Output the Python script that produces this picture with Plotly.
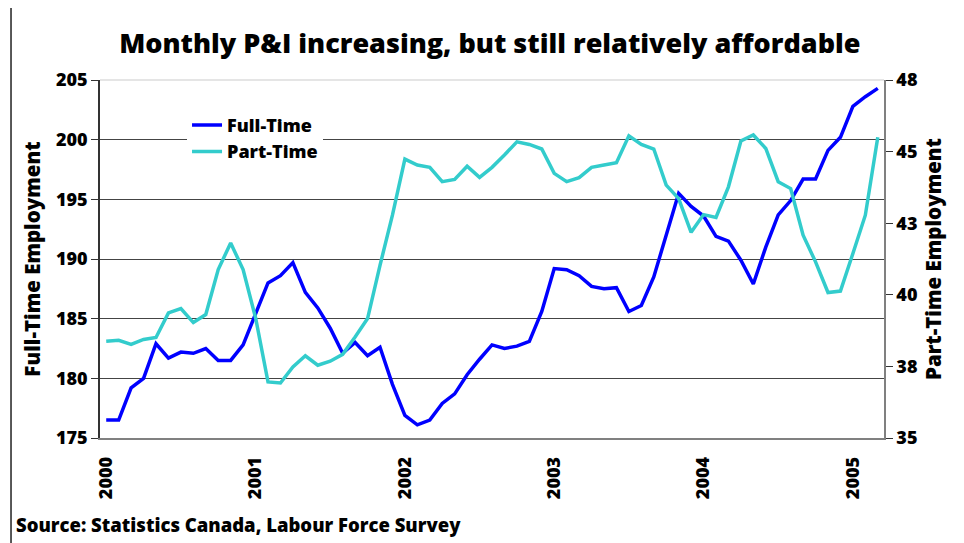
import plotly.graph_objects as go

years = [2000, 2001, 2002, 2003, 2004, 2005]
month_names = ["Jan", "Feb", "Mar", "Apr", "May", "Jun", "Jul", "Aug", "Sep", "Oct", "Nov", "Dec"]
months = [f"{m} {y}" for y in years for m in month_names][:63]  # Jan 2000 .. Mar 2005

full_time = [
    176.5, 176.5, 179.2, 180.0, 182.9, 181.7, 182.2, 182.1, 182.5, 181.5, 181.5, 182.8,
    185.4, 188.0, 188.6, 189.7, 187.2, 185.9, 184.2, 182.1, 183.0, 181.9, 182.6, 179.5,
    176.9, 176.1, 176.5, 177.9, 178.7, 180.3, 181.6, 182.8, 182.5, 182.7, 183.1, 185.6,
    189.2, 189.1, 188.6, 187.7, 187.5, 187.6, 185.6, 186.1, 188.5, 192.1, 195.5, 194.4,
    193.6, 191.9, 191.5, 189.9, 187.9, 191.0, 193.7, 194.9, 196.7, 196.7, 199.1, 200.2,
    202.8, 203.6, 204.3,
]
part_time = [
    38.38, 38.41, 38.27, 38.44, 38.51, 39.37, 39.52, 39.03, 39.31, 40.88, 41.81, 40.88,
    39.2, 36.96, 36.92, 37.48, 37.87, 37.54, 37.68, 37.92, 38.53, 39.17, 41.03, 42.78,
    44.74, 44.53, 44.45, 43.95, 44.03, 44.49, 44.10, 44.45, 44.88, 45.34, 45.25, 45.09,
    44.24, 43.95, 44.09, 44.45, 44.53, 44.61, 45.55, 45.25, 45.09, 43.83, 43.36, 42.18,
    42.80, 42.70, 43.77, 45.37, 45.58, 45.11, 43.95, 43.71, 42.08, 41.15, 40.08, 40.13,
    41.44, 42.78, 45.50,
]

left_ticks = [175, 180, 185, 190, 195, 200, 205]
grid_values = [180, 185, 190, 195, 200]
right_ticks = [35, 37.5, 40, 42.5, 45, 47.5]
right_tick_text = ["35", "38", "40", "43", "45", "48"]
year_ticks = [f"Jan {y}" for y in years]
year_text = [str(y) for y in years]

FONT = "Open Sans"
W = 800
BLUE = "#0000FF"
CYAN = "#33CCCC"
AXIS = "#333333"

fig = go.Figure()
fig.add_trace(go.Scatter(x=months, y=full_time, name="Full-Time", mode="lines",
                         line=dict(color=BLUE, width=3.5)))
fig.add_trace(go.Scatter(x=months, y=part_time, name="Part-Time", mode="lines",
                         line=dict(color=CYAN, width=3.5), yaxis="y2"))

fig.update_layout(
    width=956, height=535,
    margin=dict(l=92, r=80, t=72, b=105),
    paper_bgcolor="white", plot_bgcolor="white",
    font=dict(family=FONT, color="black", size=17, weight=W),
    title=dict(text="Monthly P&I increasing, but still relatively affordable",
               x=0.504, xanchor="center", y=0.933, yanchor="middle",
               font=dict(family=FONT, size=27, weight=W, color="black")),
    xaxis=dict(type="category", categoryorder="array", categoryarray=months,
               range=[-0.5, 62.5], tickmode="array", tickvals=year_ticks, ticktext=year_text,
               tickangle=-90, showgrid=False, showline=True, linecolor="#808080", linewidth=1.5,
               ticks="", ticklabelstandoff=10, tickfont=dict(family=FONT, size=18, weight=W)),
    yaxis=dict(range=[175, 205], tickmode="array", tickvals=left_ticks, showgrid=False,
               showline=True, linecolor=AXIS, linewidth=1.5,
               ticks="outside", ticklen=7, tickcolor=AXIS,
               tickfont=dict(family=FONT, size=18, weight=W),
               title=dict(text="Full-Time Employment", standoff=10,
                          font=dict(family=FONT, size=20.5, weight=W))),
    yaxis2=dict(range=[35, 47.5], overlaying="y", side="right", tickmode="array",
                tickvals=right_ticks, ticktext=right_tick_text, showgrid=False,
                showline=True, linecolor="#808080", linewidth=1.5,
                ticks="outside", ticklen=7, tickcolor=AXIS,
                tickfont=dict(family=FONT, size=18, weight=W),
                title=dict(text="Part-Time Employment", standoff=10,
                           font=dict(family=FONT, size=20.5, weight=W))),
    yaxis3=dict(range=[175, 205], overlaying="y", tickmode="array", tickvals=grid_values,
                showticklabels=False, ticks="", showline=False, showgrid=True,
                gridcolor="#444444", gridwidth=1, zeroline=False),
    legend=dict(x=0.111, y=0.925, xanchor="left", yanchor="top", bgcolor="white",
                font=dict(family=FONT, size=18, weight=W), itemwidth=30, tracegroupgap=0),
    showlegend=True,
)

# invisible helper trace to activate the grid axis
fig.add_trace(go.Scatter(x=[months[0]], y=[None], yaxis="y3", showlegend=False,
                         hoverinfo="skip", mode="lines"))

# top border of plot area (light) and chart frame
fig.add_shape(type="line", xref="paper", yref="paper", x0=0, x1=1, y0=1, y1=1,
              line=dict(color="#dddddd", width=1.5))
fig.add_shape(type="rect", xref="paper", yref="paper", x0=-0.1135, x1=1.097, y0=-0.32, y1=1.204,
              line=dict(color="#222222", width=1.5), fillcolor="rgba(0,0,0,0)", layer="below")

fig.add_annotation(text="Source: Statistics Canada, Labour Force Survey", xref="paper", yref="paper",
                   x=-0.1097, y=-0.243, xanchor="left", yanchor="middle", showarrow=False,
                   font=dict(family=FONT, size=18.5, weight=W, color="black"))

fig.write_html("out.html")
